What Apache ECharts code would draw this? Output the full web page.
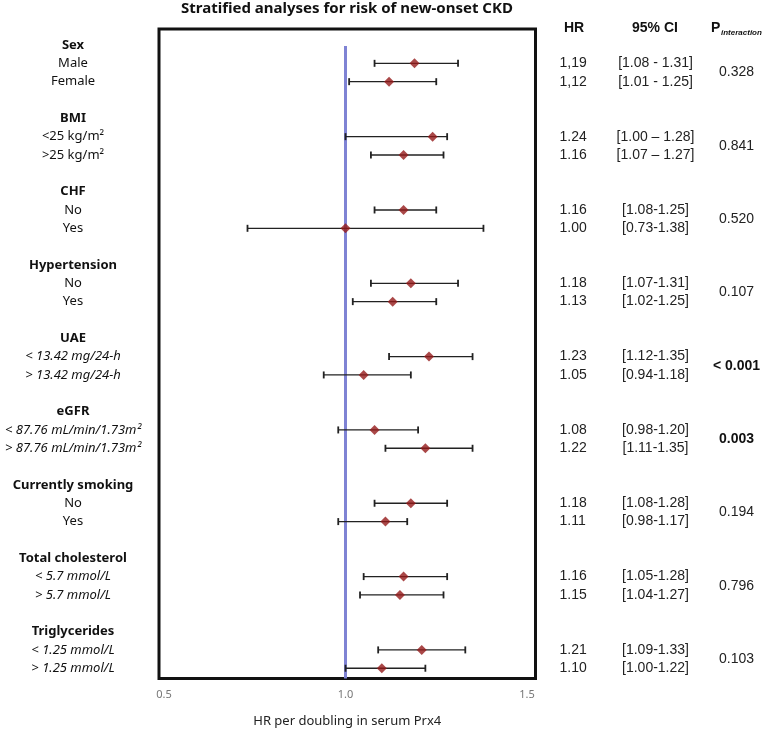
<!DOCTYPE html>
<html>
<head>
<meta charset="utf-8">
<script src="https://cdn.jsdelivr.net/npm/echarts@6/dist/echarts.min.js"></script>
<style>html,body{margin:0;padding:0;background:#fff}#c{width:765px;height:731px}</style>
</head>
<body>
<div id="c"></div>
<script>
const groups = ['Sex','BMI','CHF','Hypertension','UAE','eGFR','Currently smoking','Total cholesterol','Triglycerides'];
const italicGroup = [false,false,false,false,true,true,false,true,true];
const subgroups = ['Male','Female','<25 kg/m²','>25 kg/m²','No','Yes','No','Yes',
  '< 13.42 mg/24-h','> 13.42 mg/24-h','< 87.76 mL/min/1.73m²','> 87.76 mL/min/1.73m²',
  'No','Yes','< 5.7 mmol/L','> 5.7 mmol/L','< 1.25 mmol/L','> 1.25 mmol/L'];
const hr = [1.19,1.12,1.24,1.16,1.16,1.00,1.18,1.13,1.23,1.05,1.08,1.22,1.18,1.11,1.16,1.15,1.21,1.10];
const lo = [1.08,1.01,1.00,1.07,1.08,0.73,1.07,1.02,1.12,0.94,0.98,1.11,1.08,0.98,1.05,1.04,1.09,1.00];
const hi = [1.31,1.25,1.28,1.27,1.25,1.38,1.31,1.25,1.35,1.18,1.20,1.35,1.28,1.17,1.28,1.27,1.33,1.22];
const hrText = ['1,19','1,12','1.24','1.16','1.16','1.00','1.18','1.13','1.23','1.05','1.08','1.22','1.18','1.11','1.16','1.15','1.21','1.10'];
const ciText = ['[1.08 - 1.31]','[1.01 - 1.25]','[1.00 – 1.28]','[1.07 – 1.27]','[1.08-1.25]','[0.73-1.38]',
  '[1.07-1.31]','[1.02-1.25]','[1.12-1.35]','[0.94-1.18]','[0.98-1.20]','[1.11-1.35]',
  '[1.08-1.28]','[0.98-1.17]','[1.05-1.28]','[1.04-1.27]','[1.09-1.33]','[1.00-1.22]'];
const pText = ['0.328','0.841','0.520','0.107','< 0.001','0.003','0.194','0.796','0.103'];
const pBold = [false,false,false,false,true,true,false,false,false];
const xTicks = [0.5, 1.0, 1.5];
const refValue = 1.0;

const rowOf = k => 4 * Math.floor(k / 2) + 1 + (k % 2);
const key = v => String(Math.round(v * 2) / 2);

const leftMap = {}, hrMap = {}, ciMap = {}, pMap = {};
groups.forEach((g, i) => { leftMap[key(4 * i)] = '{h|' + g + '}'; });
subgroups.forEach((s, k) => {
  const g = Math.floor(k / 2);
  leftMap[key(rowOf(k))] = (italicGroup[g] ? '{i|' : '{n|') + s + '}';
  hrMap[key(rowOf(k))] = hrText[k];
  ciMap[key(rowOf(k))] = ciText[k];
});
pText.forEach((p, g) => { pMap[key(4 * g + 1.5)] = (pBold[g] ? '{b|' : '{n|') + p + '}'; });

const leftVals = Object.keys(leftMap).map(Number);
const rowVals = subgroups.map((s, k) => rowOf(k));
const pVals = pText.map((p, g) => 4 * g + 1.5);

const yMin = -0.873, yMax = 34.56;
const xMin = 0.4862, xMax = 1.5234;

const rightAxis = (vals, map, margin, align, rich) => ({
  type: 'value', position: 'right', inverse: true, min: yMin, max: yMax,
  axisLine: { show: false }, axisTick: { show: false }, splitLine: { show: false },
  axisLabel: {
    customValues: vals, margin: margin, align: align, verticalAlign: 'middle',
    fontFamily: 'Liberation Sans', fontSize: 14, color: '#222',
    formatter: v => map[key(v)] || '', rich: rich
  }
});

const chart = echarts.init(document.getElementById('c'), null, { renderer: 'canvas' });
chart.setOption({
  animation: false,
  backgroundColor: '#fff',
  grid: { left: 159, top: 29, width: 376.5, height: 649.5, containLabel: false, outerBoundsMode: 'none',
          show: true, borderColor: '#111', borderWidth: 3, backgroundColor: 'transparent' },
  graphic: [
    { type: 'text', x: 347, y: 9, style: { text: 'Stratified analyses for risk of new-onset CKD', align: 'center', verticalAlign: 'middle', fontFamily: 'Noto Sans', fontWeight: 'bold', fontSize: 15, fill: '#111' } },
    { type: 'text', x: 574, y: 28, style: { text: 'HR', align: 'center', verticalAlign: 'middle', fontFamily: 'Liberation Sans', fontWeight: 'bold', fontSize: 14, fill: '#111' } },
    { type: 'text', x: 655, y: 28, style: { text: '95% CI', align: 'center', verticalAlign: 'middle', fontFamily: 'Liberation Sans', fontWeight: 'bold', fontSize: 14, fill: '#111' } },
    { type: 'text', x: 711, y: 28, style: { text: 'P', align: 'left', verticalAlign: 'middle', fontFamily: 'Liberation Sans', fontWeight: 'bold', fontSize: 14, fill: '#111' } },
    { type: 'text', x: 721, y: 33, style: { text: 'interaction', align: 'left', verticalAlign: 'middle', fontFamily: 'Liberation Sans', fontWeight: 'bold', fontStyle: 'italic', fontSize: 8, fill: '#111' } }
  ],
  xAxis: {
    type: 'value', min: xMin, max: xMax,
    axisLine: { show: false }, axisTick: { show: false }, splitLine: { show: false },
    axisLabel: { customValues: xTicks, formatter: v => v.toFixed(1), fontFamily: 'Noto Sans', fontSize: 11, color: '#777', margin: 11 },
    name: 'HR per doubling in serum Prx4', nameLocation: 'middle', nameGap: 36,
    nameTextStyle: { fontFamily: 'Noto Sans', fontSize: 13, color: '#222' }
  },
  yAxis: [
    {
      type: 'value', inverse: true, min: yMin, max: yMax,
      axisLine: { show: false }, axisTick: { show: false }, splitLine: { show: false },
      axisLabel: {
        customValues: leftVals, margin: 86, align: 'center', verticalAlign: 'middle',
        formatter: v => leftMap[key(v)] || '',
        rich: {
          h: { fontFamily: 'Noto Sans', fontWeight: 'bold', fontSize: 13, color: '#111' },
          n: { fontFamily: 'Noto Sans', fontSize: 13, color: '#111' },
          i: { fontFamily: 'Noto Sans', fontStyle: 'italic', fontSize: 13, color: '#111' }
        }
      }
    },
    rightAxis(rowVals, hrMap, 24, 'left'),
    rightAxis(rowVals, ciMap, 120, 'center'),
    rightAxis(pVals, pMap, 201, 'center', {
      n: { fontFamily: 'Liberation Sans', fontSize: 14, color: '#222' },
      b: { fontFamily: 'Liberation Sans', fontSize: 14, fontWeight: 'bold', color: '#111' }
    })
  ],
  series: [
    {
      type: 'custom', xAxisIndex: 0, yAxisIndex: 0, z: 3,
      data: hr.map((v, k) => [lo[k], hi[k], rowOf(k)]),
      encode: { x: [0, 1], y: 2 },
      renderItem: (params, api) => {
        const y = api.value(2);
        const a = api.coord([api.value(0), y]);
        const b = api.coord([api.value(1), y]);
        const st = { stroke: '#222', lineWidth: 1.3 };
        return { type: 'group', children: [
          { type: 'line', shape: { x1: a[0], y1: a[1], x2: b[0], y2: b[1] }, style: st },
          { type: 'line', shape: { x1: a[0], y1: a[1] - 3.5, x2: a[0], y2: a[1] + 3.5 }, style: { stroke: '#222', lineWidth: 1.8 } },
          { type: 'line', shape: { x1: b[0], y1: b[1] - 3.5, x2: b[0], y2: b[1] + 3.5 }, style: { stroke: '#222', lineWidth: 1.8 } }
        ] };
      }
    },
    {
      type: 'scatter', xAxisIndex: 0, yAxisIndex: 0, z: 4,
      symbol: 'diamond', symbolSize: 10,
      itemStyle: { color: '#951a1a' },
      data: hr.map((v, k) => [v, rowOf(k)]),
      markLine: {
        silent: true, symbol: 'none', z: 2,
        lineStyle: { color: '#7f83d4', width: 3, type: 'solid' },
        label: { show: false },
        data: [[{ coord: [refValue, 0.05] }, { coord: [refValue, yMax] }]]
      }
    }
  ]
});
</script>
</body>
</html>
